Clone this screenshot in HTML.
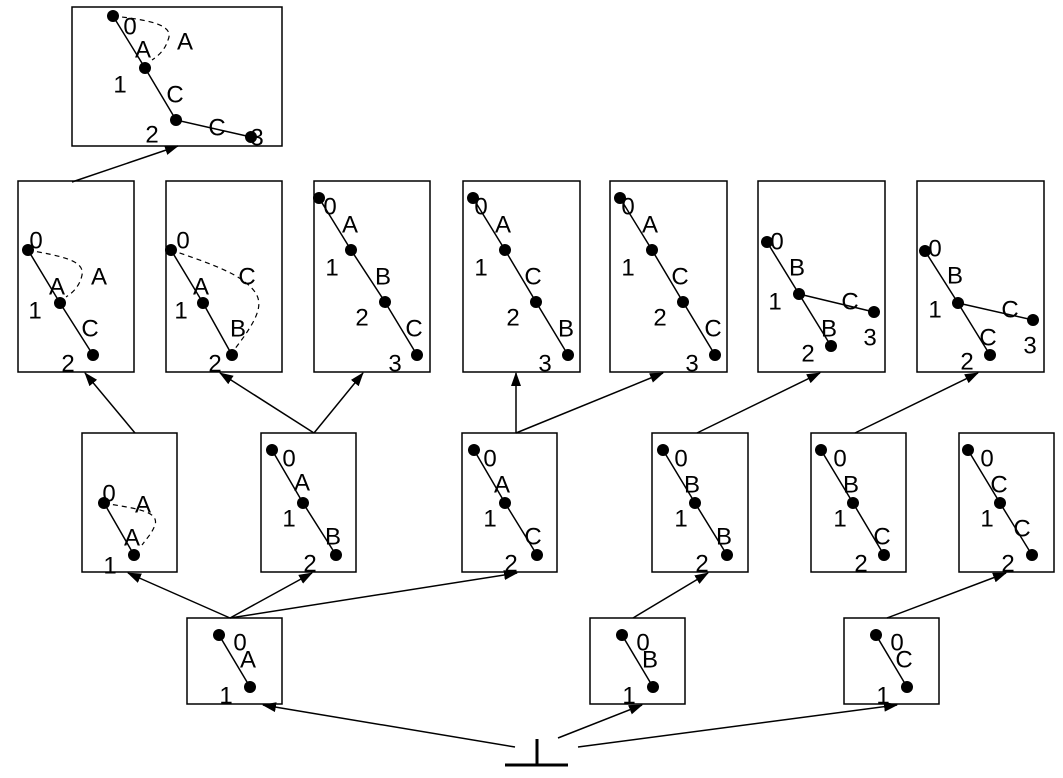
<!DOCTYPE html>
<html><head><meta charset="utf-8"><style>body{margin:0;background:#fff}svg{display:block}text{font-family:"Liberation Sans",sans-serif;font-size:24px;fill:#000;text-anchor:middle;dominant-baseline:central}</style></head><body>
<svg width="1063" height="778" viewBox="0 0 1063 778" xmlns="http://www.w3.org/2000/svg">
<defs><marker id="a" markerWidth="14" markerHeight="10" refX="13" refY="5" orient="auto" markerUnits="userSpaceOnUse"><path d="M0,0 L14,5 L0,10 z" fill="#000"/></marker></defs>
<g fill="none" stroke="#000" stroke-width="1.5">
<rect x="72" y="7" width="210" height="139"/>
<rect x="18" y="181" width="116" height="191"/><rect x="166" y="181" width="116" height="191"/><rect x="314" y="181" width="116" height="191"/><rect x="463" y="181" width="117" height="191"/><rect x="610" y="181" width="117" height="191"/><rect x="758" y="181" width="127" height="191"/><rect x="917" y="181" width="127" height="191"/>
<rect x="82" y="433" width="95" height="139"/><rect x="261" y="433" width="95" height="139"/><rect x="462" y="433" width="95" height="139"/><rect x="652" y="433" width="96" height="139"/><rect x="811" y="433" width="95" height="139"/><rect x="959" y="433" width="95" height="139"/>
<rect x="187" y="618" width="95" height="86"/><rect x="590" y="618" width="95" height="86"/><rect x="844" y="618" width="95" height="86"/>
</g>
<g stroke="#000" stroke-width="1.5" fill="none">
<polyline points="113,16 145,68 176,120 251,137"/>
<polyline points="28,250 60,303 93,355"/><polyline points="171,250 203,303 232,355"/>
<polyline points="319,198 351,250 385,302 417,355"/><polyline points="473,198 505,250 536,302 568,355"/><polyline points="620,198 652,250 683,302 715,355"/>
<polyline points="767,242 799,294 831,346"/><line x1="799" y1="294" x2="874" y2="312"/>
<polyline points="925,251 958,303 990,355"/><line x1="958" y1="303" x2="1033" y2="320"/>
<polyline points="104,503 134,555"/><polyline points="272,450 303,503 336,555"/><polyline points="474,450 505,503 537,555"/><polyline points="663,450 695,503 727,555"/><polyline points="821,450 853,503 884,555"/><polyline points="968,450 1000,503 1032,555"/>
<line x1="219" y1="635" x2="250" y2="687"/><line x1="622" y1="635" x2="653" y2="687"/><line x1="876" y1="635" x2="907" y2="687"/>
</g>
<g stroke="#000" stroke-width="1.2" fill="none" stroke-dasharray="5,4">
<path d="M113,16 C150,20 175,25 168,40 C165,50 158,56 152,60"/>
<path d="M28,250 C60,256 85,260 82,275 C80,285 74,292 66,297"/>
<path d="M171,250 C200,260 230,270 245,282 C265,298 265,310 234,350"/>
<path d="M104,503 C130,508 160,510 155,525 C152,533 148,537 142,545"/>
</g>
<g fill="#000">
<circle cx="113" cy="16" r="6"/><circle cx="145" cy="68" r="6"/><circle cx="176" cy="120" r="6"/><circle cx="251" cy="137" r="6"/>
<circle cx="28" cy="250" r="6"/><circle cx="60" cy="303" r="6"/><circle cx="93" cy="355" r="6"/>
<circle cx="171" cy="250" r="6"/><circle cx="203" cy="303" r="6"/><circle cx="232" cy="355" r="6"/>
<circle cx="319" cy="198" r="6"/><circle cx="351" cy="250" r="6"/><circle cx="385" cy="302" r="6"/><circle cx="417" cy="355" r="6"/>
<circle cx="473" cy="198" r="6"/><circle cx="505" cy="250" r="6"/><circle cx="536" cy="302" r="6"/><circle cx="568" cy="355" r="6"/>
<circle cx="620" cy="198" r="6"/><circle cx="652" cy="250" r="6"/><circle cx="683" cy="302" r="6"/><circle cx="715" cy="355" r="6"/>
<circle cx="767" cy="242" r="6"/><circle cx="799" cy="294" r="6"/><circle cx="831" cy="346" r="6"/><circle cx="874" cy="312" r="6"/>
<circle cx="925" cy="251" r="6"/><circle cx="958" cy="303" r="6"/><circle cx="990" cy="355" r="6"/><circle cx="1033" cy="320" r="6"/>
<circle cx="104" cy="503" r="6"/><circle cx="134" cy="555" r="6"/>
<circle cx="272" cy="450" r="6"/><circle cx="303" cy="503" r="6"/><circle cx="336" cy="555" r="6"/>
<circle cx="474" cy="450" r="6"/><circle cx="505" cy="503" r="6"/><circle cx="537" cy="555" r="6"/>
<circle cx="663" cy="450" r="6"/><circle cx="695" cy="503" r="6"/><circle cx="727" cy="555" r="6"/>
<circle cx="821" cy="450" r="6"/><circle cx="853" cy="503" r="6"/><circle cx="884" cy="555" r="6"/>
<circle cx="968" cy="450" r="6"/><circle cx="1000" cy="503" r="6"/><circle cx="1032" cy="555" r="6"/>
<circle cx="219" cy="635" r="6"/><circle cx="250" cy="687" r="6"/>
<circle cx="622" cy="635" r="6"/><circle cx="653" cy="687" r="6"/>
<circle cx="876" cy="635" r="6"/><circle cx="907" cy="687" r="6"/>
</g>
<g stroke="#000" stroke-width="1.5" marker-end="url(#a)">
<line x1="72" y1="182" x2="178" y2="146"/>
<line x1="135" y1="433" x2="85" y2="373"/>
<line x1="314" y1="433" x2="220" y2="373"/><line x1="314" y1="433" x2="363" y2="373"/>
<line x1="516" y1="433" x2="516" y2="373"/><line x1="516" y1="433" x2="663" y2="373"/>
<line x1="697" y1="433" x2="820" y2="373"/><line x1="855" y1="433" x2="978" y2="373"/>
<line x1="230" y1="618" x2="128" y2="573"/><line x1="230" y1="618" x2="312" y2="573"/><line x1="230" y1="618" x2="517" y2="573"/>
<line x1="633" y1="618" x2="708" y2="573"/><line x1="887" y1="618" x2="1006" y2="573"/>
<line x1="515" y1="747" x2="263" y2="705"/><line x1="558" y1="738" x2="642" y2="705"/><line x1="578" y1="747" x2="897" y2="705"/>
</g>
<g stroke="#000" stroke-width="3"><line x1="537" y1="739" x2="537" y2="765"/><line x1="505" y1="765" x2="568" y2="765"/></g>
<text x="130" y="27">0</text><text x="143" y="50">A</text><text x="185" y="42">A</text><text x="120" y="85">1</text><text x="175" y="95">C</text><text x="152" y="135">2</text><text x="217" y="128">C</text><text x="257" y="138">3</text>
<text x="36" y="241">0</text><text x="57" y="287">A</text><text x="99" y="277">A</text><text x="35" y="311">1</text><text x="90" y="329">C</text><text x="68" y="364">2</text>
<text x="183" y="241">0</text><text x="201" y="287">A</text><text x="247" y="277">C</text><text x="181" y="311">1</text><text x="238" y="329">B</text><text x="215" y="364">2</text>
<text x="330" y="207">0</text><text x="350" y="225">A</text><text x="332" y="268">1</text><text x="383" y="277">B</text><text x="362" y="318">2</text><text x="414" y="329">C</text><text x="395" y="364">3</text>
<text x="481" y="207">0</text><text x="503" y="225">A</text><text x="481" y="268">1</text><text x="533" y="277">C</text><text x="513" y="318">2</text><text x="566" y="329">B</text><text x="545" y="364">3</text>
<text x="628" y="207">0</text><text x="650" y="225">A</text><text x="628" y="268">1</text><text x="680" y="277">C</text><text x="660" y="318">2</text><text x="713" y="329">C</text><text x="692" y="364">3</text>
<text x="777" y="242">0</text><text x="797" y="268">B</text><text x="775" y="302">1</text><text x="850" y="302">C</text><text x="829" y="329">B</text><text x="808" y="354">2</text><text x="870" y="338">3</text>
<text x="935" y="249">0</text><text x="955" y="276">B</text><text x="935" y="310">1</text><text x="1010" y="310">C</text><text x="988" y="338">C</text><text x="967" y="362">2</text><text x="1030" y="346">3</text>
<text x="109" y="494">0</text><text x="143" y="505">A</text><text x="132" y="538">A</text><text x="110" y="566">1</text>
<text x="289" y="459">0</text><text x="302" y="483">A</text><text x="289" y="519">1</text><text x="333" y="537">B</text><text x="310" y="564">2</text>
<text x="490" y="459">0</text><text x="502" y="485">A</text><text x="490" y="519">1</text><text x="533" y="537">C</text><text x="511" y="564">2</text>
<text x="681" y="459">0</text><text x="692" y="485">B</text><text x="681" y="519">1</text><text x="724" y="537">B</text><text x="702" y="564">2</text>
<text x="840" y="459">0</text><text x="851" y="485">B</text><text x="840" y="519">1</text><text x="882" y="537">C</text><text x="861" y="564">2</text>
<text x="987" y="459">0</text><text x="999" y="485">C</text><text x="987" y="519">1</text><text x="1022" y="529">C</text><text x="1008" y="564">2</text>
<text x="240" y="643">0</text><text x="248" y="660">A</text><text x="226" y="696">1</text>
<text x="643" y="643">0</text><text x="650" y="660">B</text><text x="629" y="696">1</text>
<text x="897" y="643">0</text><text x="904" y="660">C</text><text x="883" y="696">1</text>
</svg>
</body></html>
